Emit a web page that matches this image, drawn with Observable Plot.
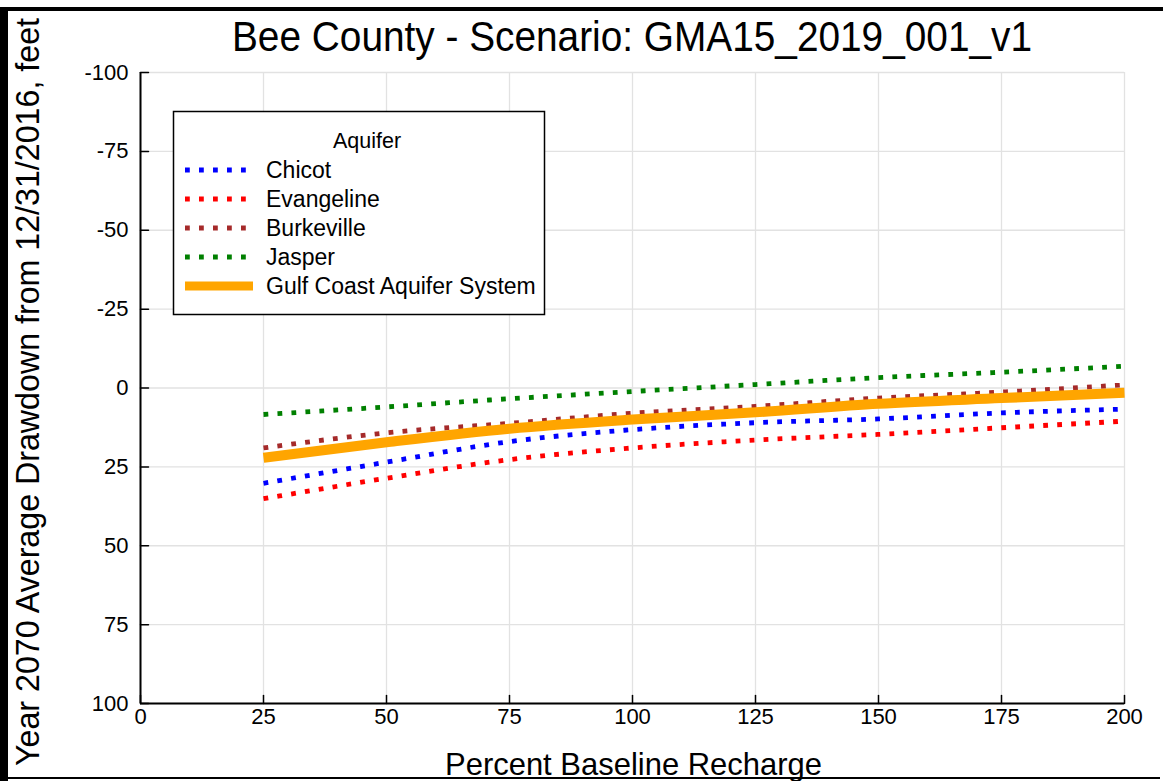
<!DOCTYPE html>
<html><head><meta charset="utf-8">
<script src="https://cdn.jsdelivr.net/npm/d3@7"></script>
<script src="https://cdn.jsdelivr.net/npm/@observablehq/plot@0.6"></script>
<style>
body{margin:0;background:#fff;}
#chart{position:relative;width:1163px;height:781px;overflow:hidden;}
</style>
</head><body><div id="chart"></div>
<script>
// ---- data ----
const recharge   = [25, 50, 75, 100, 125, 150, 175, 200];
const chicot     = [30.2, 23.5, 17.0, 13.2, 11.0, 9.8, 7.9, 6.7];
const evangeline = [35.1, 28.6, 22.7, 19.0, 16.5, 14.7, 12.6, 10.5];
const burkeville = [19.0, 14.2, 11.2, 8.0, 5.8, 3.2, 1.3, -1.0];
const jasper     = [8.4, 6.0, 3.4, 1.1, -1.1, -3.3, -5.0, -6.9];
const gulfCoast  = [22.1, 17.2, 12.9, 10.0, 7.7, 5.0, 3.2, 1.5];
const aquiferNames  = ["Chicot", "Evangeline", "Burkeville", "Jasper", "Gulf Coast Aquifer System"];
const aquiferColors = ["#0000ff", "#ff0000", "#a52a2a", "#008000", "#ffa500"];
const xTicks = [0, 25, 50, 75, 100, 125, 150, 175, 200];
const yTicks = [-100, -75, -50, -25, 0, 25, 50, 75, 100];
const titleText  = "Bee County - Scenario: GMA15_2019_001_v1";
const xLabelText = "Percent Baseline Recharge";
const yLabelText = "Year 2070 Average Drawdown from 12/31/2016, feet";
const legendTitle = "Aquifer";

// ---- build table ----
const seriesVals = [chicot, evangeline, burkeville, jasper, gulfCoast];
const rows = [];
aquiferNames.forEach((name, k) => seriesVals[k].forEach((v, i) => rows.push({aquifer: name, x: recharge[i], y: v})));
const gulfName = aquiferNames[4];
const dottedRows = rows.filter(d => d.aquifer !== gulfName);
const gulfRows = rows.filter(d => d.aquifer === gulfName);

const W = 1163, H = 781;
const FONT = "Liberation Sans, Arial, Helvetica, sans-serif";
const tickUp = {draw(ctx, l) { ctx.moveTo(0, 0); ctx.lineTo(0, -l); }};

const plot = Plot.plot({
  width: W, height: H,
  marginLeft: 140, marginRight: 39, marginTop: 72, marginBottom: 78,
  style: {fontFamily: FONT, background: "white", color: "black"},
  x: {domain: [0, 200]},
  y: {domain: [-100, 100], reverse: true},
  color: {domain: aquiferNames, range: aquiferColors},
  marks: [
    Plot.gridX(xTicks, {stroke: "#e2e2e2", strokeOpacity: 1, strokeWidth: 1.3}),
    Plot.gridY(yTicks, {stroke: "#e2e2e2", strokeOpacity: 1, strokeWidth: 1.3}),
    Plot.axisX({ticks: xTicks, tickSize: 0, tickPadding: 5, fontSize: 22, label: null, tickFormat: d => String(d)}),
    Plot.axisY({ticks: yTicks, tickSize: 0, tickPadding: 12, fontSize: 22, label: null, tickFormat: d => String(d)}),
    Plot.ruleX([0], {stroke: "black", strokeWidth: 2}),
    Plot.ruleY([100], {stroke: "black", strokeWidth: 2}),
    Plot.vector(xTicks, {x: d => d, y: 100, length: 8, rotate: 0, anchor: "start", shape: tickUp, stroke: "black", strokeWidth: 1.5}),
    Plot.vector(yTicks, {x: 0, y: d => d, length: 8, rotate: 90, anchor: "start", shape: tickUp, stroke: "black", strokeWidth: 1.5}),
    Plot.line(dottedRows, {x: "x", y: "y", z: "aquifer", stroke: "aquifer", strokeWidth: 4.8, strokeDasharray: "4.8,9.2", strokeLinecap: "butt", curve: "monotone-x"}),
    Plot.line(gulfRows, {x: "x", y: "y", stroke: "aquifer", strokeWidth: 10, strokeLinecap: "butt", curve: "monotone-x"})
  ]
});
document.getElementById("chart").appendChild(plot);

// ---- decorations (title, axis labels, legend, frame) ----
const svg = d3.select(plot);
const deco = svg.append("g").attr("font-family", FONT).attr("fill", "black").attr("text-anchor", "start");
deco.append("text").attr("x", 232).attr("y", 51).attr("textLength", 800).attr("lengthAdjust", "spacingAndGlyphs")
  .attr("font-size", 42).text(titleText);
deco.append("text").attr("x", 445).attr("y", 775).attr("textLength", 377).attr("lengthAdjust", "spacingAndGlyphs")
  .attr("font-size", 32).text(xLabelText);
deco.append("text").attr("transform", "translate(39,766) rotate(-90)").attr("textLength", 748).attr("lengthAdjust", "spacingAndGlyphs")
  .attr("font-size", 33).text(yLabelText);

// legend
const lg = deco.append("g");
lg.append("rect").attr("x", 173.5).attr("y", 111.5).attr("width", 371).attr("height", 203)
  .attr("fill", "white").attr("stroke", "black").attr("stroke-width", 1.5);
lg.append("text").attr("x", 367).attr("y", 148).attr("text-anchor", "middle").attr("font-size", 21.5).text(legendTitle);
aquiferNames.forEach((name, k) => {
  const cy = 170 + k * 29;
  const isGulf = name === gulfName;
  lg.append("line").attr("x1", 185).attr("x2", isGulf ? 253 : 246).attr("y1", cy).attr("y2", cy)
    .attr("stroke", aquiferColors[k]).attr("stroke-width", isGulf ? 9 : 4.8)
    .attr("stroke-dasharray", isGulf ? null : "4.8,9.2");
  lg.append("text").attr("x", 266).attr("y", cy + 7.5).attr("font-size", 23).text(name);
});

// frame
svg.append("rect").attr("x", 0).attr("y", 7).attr("width", W).attr("height", 4).attr("fill", "black");
svg.append("rect").attr("x", 0).attr("y", 7).attr("width", 8).attr("height", H - 7).attr("fill", "black");
svg.append("rect").attr("x", 0).attr("y", 777).attr("width", 1160).attr("height", 2).attr("fill", "black");
</script>
</body></html>
